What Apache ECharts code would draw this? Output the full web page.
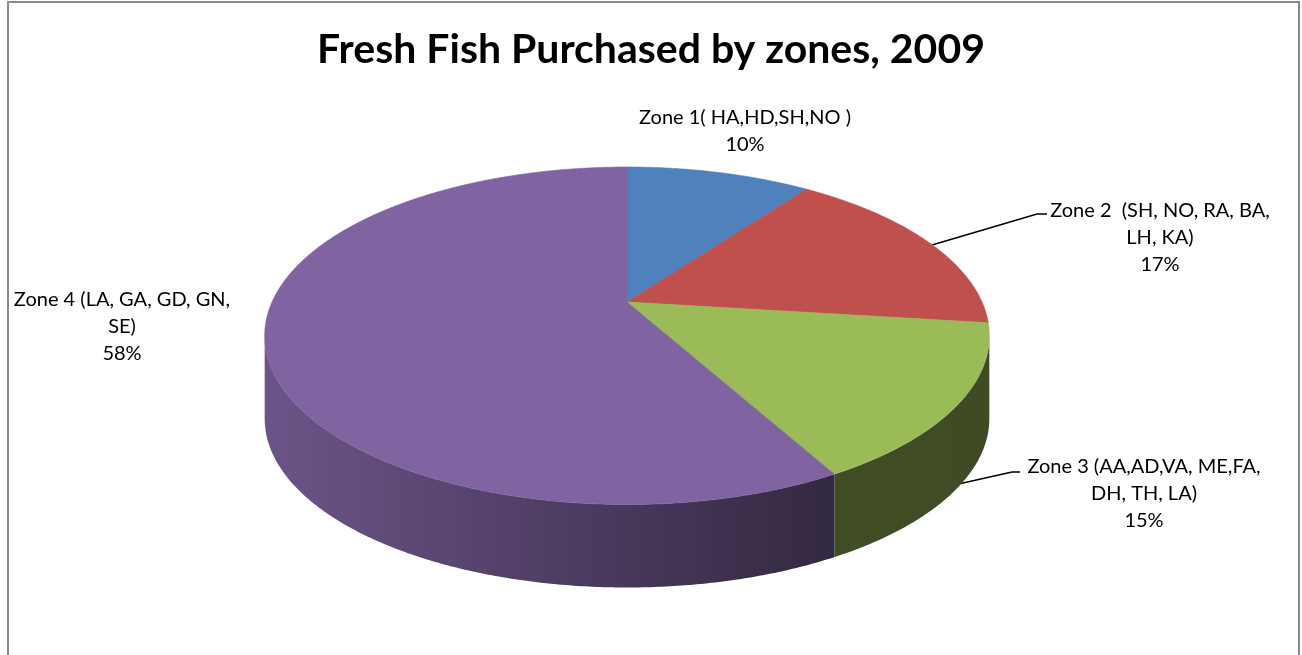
<!DOCTYPE html>
<html>
<head>
<meta charset="utf-8">
<title>Fresh Fish Purchased by zones, 2009</title>
<script src="https://cdn.jsdelivr.net/npm/echarts@6/dist/echarts.min.js"></script>
<style>
  html, body { margin: 0; padding: 0; background: #fff; }
  #main { width: 1302px; height: 655px; }
</style>
</head>
<body>
<div id="main"></div>
<script>
// data
var zones = ['Zone 1( HA,HD,SH,NO )', 'Zone 2  (SH, NO, RA, BA,\nLH, KA)', 'Zone 3 (AA,AD,VA, ME,FA,\nDH, TH, LA)', 'Zone 4 (LA, GA, GD, GN,\nSE)'];
var shares = [10, 17, 15, 58];

// styles
var colors = ['#4f81bd', '#c0504d', '#9bbb59', '#8064a2'];
var FONT = 'Lato';

var P = 0.2;             // perspective of the tilted disc
var DEPTH = 83 / 162;    // thickness, in y-axis units
var TA = Math.acos(-P);  // where the side wall becomes visible

var total = shares.reduce(function (a, b) { return a + b; }, 0);
var slices = [];
var acc = 0;
for (var i = 0; i < shares.length; i++) {
    slices.push([acc, acc + shares[i], i]);
    acc += shares[i];
}

function proj(t, drop) {
    var u = Math.sin(t), v = Math.cos(t);
    var s = 1 / (1 + P * v);
    return [u * s, v * s - (drop || 0)];
}

function shade(hex, f) {
    var r = parseInt(hex.substr(1, 2), 16), g = parseInt(hex.substr(3, 2), 16), b = parseInt(hex.substr(5, 2), 16);
    return 'rgb(' + Math.round(r * f) + ',' + Math.round(g * f) + ',' + Math.round(b * f) + ')';
}

function renderSlice(params, api) {
    var idx = api.value(2);
    var t0 = api.value(0) / total * Math.PI * 2;
    var t1 = api.value(1) / total * Math.PI * 2;
    var col = colors[idx];
    var children = [];
    var step = Math.PI / 360;

    // side wall
    var a = Math.max(t0, TA), b = Math.min(t1, Math.PI * 2 - TA);
    if (a < b) {
        var side = [];
        for (var t = a; t < b; t += step) side.push(api.coord(proj(t)));
        side.push(api.coord(proj(b)));
        for (var t = b; t > a; t -= step) side.push(api.coord(proj(t, DEPTH)));
        side.push(api.coord(proj(a, DEPTH)));
        var w = 1 / Math.sqrt(1 - P * P);
        var xl = api.coord([-w, 0])[0], xr = api.coord([w, 0])[0];
        children.push({
            type: 'polygon',
            shape: { points: side },
            style: {
                fill: {
                    type: 'linear', x: xl, y: 0, x2: xr, y2: 0, global: true,
                    colorStops: [
                        { offset: 0, color: shade(col, 0.84) },
                        { offset: 0.46, color: shade(col, 0.58) },
                        { offset: 0.78, color: shade(col, 0.41) },
                        { offset: 1, color: shade(col, 0.40) }
                    ]
                },
                stroke: null
            }
        });
    }

    // top face
    var top = [api.coord([0, 0])];
    for (var t = t0; t < t1; t += step) top.push(api.coord(proj(t)));
    top.push(api.coord(proj(t1)));
    children.push({
        type: 'polygon',
        shape: { points: top },
        style: { fill: col, stroke: col, lineWidth: 0.6 }
    });

    return { type: 'group', children: children };
}

// data labels
var labelPos = [[745, 104], [1160, 197], [1144, 453], [122, 286]];
var leaders = [null, [[932, 245], [1037, 214], [1047, 214]], [[945, 487], [1012, 472], [1020, 472]], null];
var graphics = [{
    type: 'rect',
    shape: { x: 8, y: 2, width: 1291, height: 700 },
    style: { fill: null, stroke: '#8a8a8a', lineWidth: 2 },
    silent: true
}];
for (var i = 0; i < zones.length; i++) {
    graphics.push({
        type: 'text',
        x: labelPos[i][0],
        y: labelPos[i][1],
        style: {
            text: zones[i] + '\n' + shares[i] + '%',
            font: '20px ' + FONT,
            fill: '#000',
            align: 'center',
            verticalAlign: 'top',
            lineHeight: 27
        }
    });
    if (leaders[i]) {
        graphics.push({
            type: 'polyline',
            shape: { points: leaders[i] },
            style: { stroke: '#000', lineWidth: 1.5, fill: null }
        });
    }
}

var myChart = echarts.init(document.getElementById('main'));
var option = {
    backgroundColor: '#fff',
    animation: false,
    title: {
        text: 'Fresh Fish Purchased by zones, 2009',
        left: 'center',
        top: 24,
        textStyle: { fontFamily: FONT, fontSize: 41, fontWeight: 'bold', color: '#000' }
    },
    grid: { left: 272, top: 140, width: 710, height: 324 },
    xAxis: { type: 'value', min: -1, max: 1, show: false },
    yAxis: { type: 'value', min: -1, max: 1, show: false },
    series: [{
        type: 'custom',
        renderItem: renderSlice,
        clip: false,
        data: slices
    }],
    graphic: graphics
};
myChart.setOption(option);
</script>
</body>
</html>
